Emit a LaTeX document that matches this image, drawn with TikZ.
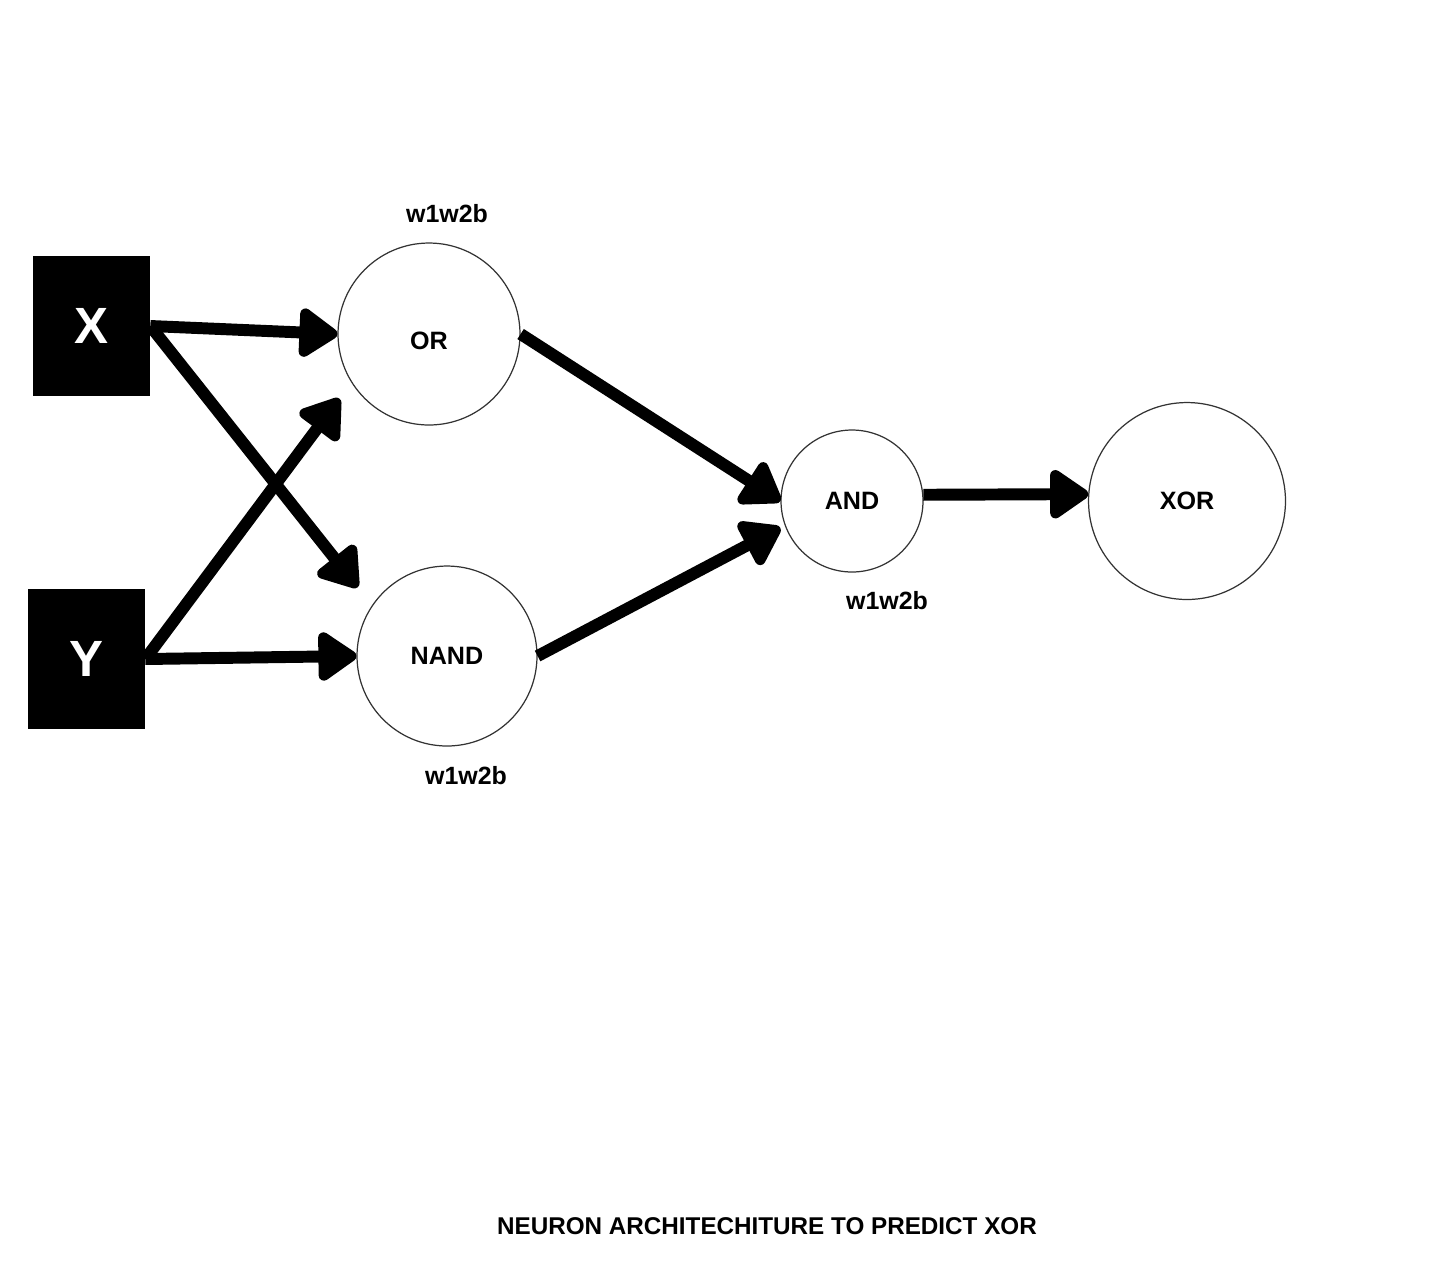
\documentclass[tikz,border=0pt]{standalone}
\usepackage{fontspec}
\setmainfont{Liberation Sans}
\usetikzlibrary{arrows.meta}
\begin{document}
\begin{tikzpicture}[x=0.02cm, y=-0.02cm,
  neuron/.style={draw=black!80, line width=0.7pt, circle, inner sep=0pt, font=\bfseries\fontsize{14.3}{16}\selectfont},
  inputbox/.style={fill=black, text=white, minimum width=2.34cm, minimum height=2.8cm, inner sep=0pt, font=\bfseries\fontsize{29}{32}\selectfont},
  weights/.style={font=\bfseries\fontsize{14.2}{16}\selectfont},
  link/.style={line width=6.8pt, -{Triangle[length=0.85cm, width=1.1cm, round]}}]
\useasboundingbox (0,0) rectangle (1442,1276);
% inputs
\node [inputbox] (X) at (91.5,326) {X};
\node [inputbox] (Y) at (86.5,659) {Y};
% neurons
\node [neuron, minimum size=3.64cm, label={[font=\bfseries\fontsize{14.3}{16}\selectfont, yshift=-0.14cm]center:OR}] (OR) at (429,334) {};
\node [neuron, minimum size=3.6cm] (NAND) at (447,656) {NAND};
\node [neuron, minimum size=2.84cm] (AND) at (852,501) {AND};
\node [neuron, minimum size=3.94cm] (XOR) at (1187,501) {XOR};
% weights
\node [weights] (wOR) at (447,214) {w1w2b};
\node [weights] (wNAND) at (466,776) {w1w2b};
\node [weights] (wAND) at (887,601) {w1w2b};
\node [font=\bfseries\fontsize{13.8}{17}\selectfont] (title) at (767,1226) {NEURON ARCHITECHITURE TO PREDICT XOR};
% connections
\draw [link] (X.east) -- (OR.west);
\draw [link, shorten >=0.46cm] (X.east) -- (NAND.146);
\draw [link, shorten >=0.4cm] (Y.east) -- (OR.212);
\draw [link] (Y.east) -- (NAND.west);
\draw [link] (OR.east) -- (AND.west);
\draw [link, shorten >=0.1cm] (NAND.east) -- (AND.200);
\draw [link] (AND.5) -- (XOR.176);
\end{tikzpicture}
\end{document}
